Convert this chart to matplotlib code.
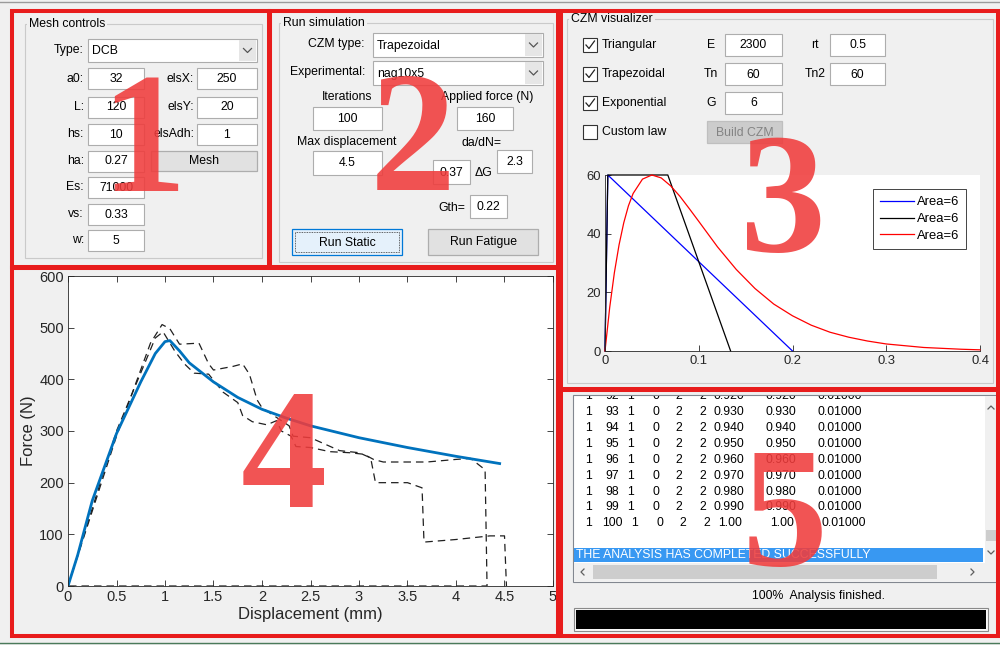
import matplotlib.pyplot as plt
from matplotlib.patches import Rectangle

plt.rcParams['font.family'] = ['Liberation Sans', 'DejaVu Sans']

# ---------------- values ----------------
mesh_type = 'DCB'
mesh_labels = ['a0:', 'L:', 'hs:', 'ha:', 'Es:', 'vs:', 'w:']
mesh_values = ['32', '120', '10', '0.27', '71000', '0.33', '5']
els_labels = ['elsX:', 'elsY:', 'elsAdh:']
els_values = ['250', '20', '1']

czm_type = 'Trapezoidal'
experimental = 'nag10x5'
iterations = '100'
applied_force = '160'
max_disp = '4.5'
dadn_c = '0.37'
dadn_m = '2.3'
gth = '0.22'

law_names = ['Triangular', 'Trapezoidal', 'Exponential', 'Custom law']
law_checked = [True, True, True, False]
param_names = ['E', 'Tn', 'G']
param_values = ['2300', '60', '6']
param2_names = ['rt', 'Tn2']
param2_values = ['0.5', '60']

# cohesive laws: separation / traction
tri_sep = [0, 0.003, 0.2]
tri_trac = [0, 60, 0]
trap_sep = [0, 0.003, 0.067, 0.134]
trap_trac = [0, 60, 60, 0]
exp_sep = [0, 0.005, 0.01, 0.015, 0.02, 0.025, 0.03, 0.04, 0.05, 0.06, 0.07, 0.08,
           0.09, 0.10, 0.12, 0.14, 0.16, 0.18, 0.20, 0.22, 0.24, 0.26, 0.28, 0.30,
           0.34, 0.38, 0.40]
exp_trac = [0, 14.8, 26.7, 36.2, 43.7, 49.5, 53.7, 58.6, 60.0, 59.0, 56.3, 52.7,
            48.5, 44.2, 35.5, 27.8, 21.3, 16.0, 12.0, 8.8, 6.4, 4.7, 3.4, 2.4,
            1.2, 0.6, 0.4]
law_legend = ['Area=6', 'Area=6', 'Area=6']

# load - displacement
num_disp = [0, 0.1, 0.25, 0.5, 0.75, 0.9, 1.0, 1.05, 1.15, 1.25, 1.5, 1.75, 2.0,
            2.25, 2.5, 3.0, 3.5, 4.0, 4.45]
num_force = [0, 60, 165, 295, 395, 450, 473, 475, 455, 432, 395, 365, 342,
             325, 310, 287, 268, 251, 237]

expA_disp = [0, 0.5, 0.85, 0.97, 1.05, 1.15, 1.35, 1.45, 1.5, 1.7, 1.8, 1.87, 1.95,
             2.0, 2.2, 2.28, 2.32, 2.5, 2.8, 3.0, 3.12, 3.17, 3.5, 3.65, 3.67, 4.0,
             4.35, 4.5, 4.52]
expA_force = [0, 290, 470, 506, 498, 468, 470, 430, 418, 425, 430, 410, 360,
              345, 320, 310, 290, 287, 262, 258, 248, 200, 200, 190, 85, 90,
              97, 97, 0]
expB_disp = [0, 0.5, 0.9, 0.98, 1.1, 1.2, 1.3, 1.45, 1.6, 1.75, 1.8, 1.9, 2.05,
             2.15, 2.2, 2.3, 2.35, 2.5, 2.7, 2.9, 3.05, 3.15, 3.25, 3.7, 4.0, 4.15,
             4.3, 4.32, 0]
expB_force = [0, 300, 480, 492, 455, 430, 412, 410, 375, 355, 330, 318, 312,
              320, 300, 290, 270, 268, 260, 258, 255, 245, 240, 240, 245, 247,
              225, 0, 0]

log_rows = [
    ['1', '92', '1', '0', '2', '2', '0.920', '0.920', '0.01000'],
    ['1', '93', '1', '0', '2', '2', '0.930', '0.930', '0.01000'],
    ['1', '94', '1', '0', '2', '2', '0.940', '0.940', '0.01000'],
    ['1', '95', '1', '0', '2', '2', '0.950', '0.950', '0.01000'],
    ['1', '96', '1', '0', '2', '2', '0.960', '0.960', '0.01000'],
    ['1', '97', '1', '0', '2', '2', '0.970', '0.970', '0.01000'],
    ['1', '98', '1', '0', '2', '2', '0.980', '0.980', '0.01000'],
    ['1', '99', '1', '0', '2', '2', '0.990', '0.990', '0.01000'],
    ['1', '100', '1', '0', '2', '2', '1.00', '1.00', '0.01000'],
]
log_message = 'THE ANALYSIS HAS COMPLETED SUCCESSFULLY'
status_text = '100%  Analysis finished.'
panel_numbers = ['1', '2', '3', '4', '5']

# ---------------- figure in pixel coordinates ----------------
W, H = 1000, 645
FS = 8.8
BG = '#f0f0f0'
fig = plt.figure(figsize=(10, 6.45), dpi=100)
fig.patch.set_facecolor(BG)

bg = fig.add_axes([0, 0, 1, 1])
bg.set_xlim(0, W)
bg.set_ylim(H, 0)
bg.axis('off')


def ax_at(x0, y0, x1, y1, **kw):
    return fig.add_axes([x0 / W, 1 - y1 / H, (x1 - x0) / W, (y1 - y0) / H], **kw)


def rect(x0, y0, x1, y1, fc='white', ec='#adadad', lw=0.8, ax=None, **kw):
    (ax or bg).add_patch(Rectangle((x0, y0), x1 - x0, y1 - y0, facecolor=fc,
                                   edgecolor=ec, linewidth=lw, **kw))


def label(x, y, s, ha='right', **kw):
    bg.text(x, y, s, ha=ha, va='center', fontsize=FS, color='#000000', **kw)


def edit(x0, y0, x1, y1, s):
    rect(x0, y0, x1, y1)
    bg.text((x0 + x1) / 2, (y0 + y1) / 2 + 0.5, s, ha='center', va='center', fontsize=FS)


def popup(x0, y0, x1, y1, s):
    rect(x0, y0, x1, y1, ec='#acacac')
    rect(x1 - 18, y0 + 1, x1 - 1, y1 - 1, fc='#e6e6e6', ec='none', lw=0)
    cx, cy = x1 - 9.5, (y0 + y1) / 2
    bg.plot([cx - 4, cx, cx + 4], [cy - 2, cy + 2, cy - 2], color='#555555', lw=0.9)
    bg.text(x0 + 4, cy + 1, s, ha='left', va='center', fontsize=FS)


def button(x0, y0, x1, y1, s, fc='#e1e1e1', ec='#adadad', color='black'):
    rect(x0, y0, x1, y1, fc=fc, ec=ec, lw=0.9)
    bg.text((x0 + x1) / 2, (y0 + y1) / 2 + 0.5, s, ha='center', va='center',
            fontsize=FS, color=color)


def groupbox(x0, y0, x1, y1, title):
    rect(x0, y0, x1, y1, fc='none', ec='#cacaca', lw=0.8)
    bg.text(x0 + 4, y0, title, ha='left', va='center', fontsize=FS,
            bbox=dict(fc=BG, ec='none', pad=1.5))


def checkbox(x, y, checked):
    rect(x, y - 7, x + 14, y + 7, fc='white', ec='#333333', lw=0.8)
    if checked:
        bg.plot([x + 3, x + 6, x + 11.5], [y, y + 3.5, y - 4], color='#222222', lw=0.9)


# window border lines
bg.plot([0, W], [1.5, 1.5], color='#9a9a9a', lw=1)
bg.plot([0, W], [642.5, 642.5], color='#4a7a5a', lw=1)

# ---------------- panel 1: mesh controls ----------------
groupbox(25, 24, 262, 258, 'Mesh controls')
label(84, 50, 'Type:')
popup(88, 39, 257, 62, mesh_type)
row_y = [78.5, 107, 134, 161, 187.5, 214, 240]
for name, val, yc in zip(mesh_labels, mesh_values, row_y):
    label(84, yc, name)
    edit(88, yc - 10.5, 144, yc + 10.5, val)
for name, val, yc in zip(els_labels, els_values, row_y[:3]):
    label(194, yc, name)
    edit(197, yc - 10.5, 257, yc + 10.5, val)
button(151, 151, 257, 171, 'Mesh')

# ---------------- panel 2: run simulation ----------------
groupbox(279, 23, 553, 262, 'Run simulation')
label(365, 44, 'CZM type:')
popup(373, 33, 543, 57, czm_type)
label(365, 72, 'Experimental:')
popup(373, 61, 543, 85, experimental)
label(347, 97, 'Iterations', ha='center')
edit(313, 107, 382, 130, iterations)
label(487, 97, 'Applied force (N)', ha='center')
edit(457, 107, 513, 130, applied_force)
label(347, 142, 'Max displacement', ha='center')
edit(313, 151, 382, 175, max_disp)
label(482, 143, 'da/dN=', ha='center')
edit(433, 160, 470, 184, dadn_c)
label(475, 173, '\u0394G', ha='left')
edit(497, 150, 532, 173, dadn_m)
label(465, 208, 'Gth=')
edit(470, 195, 507, 218, gth)
button(292, 229, 402, 255, 'Run Static', fc='#e5f1fb', ec='#0078d7')
rect(295, 232, 399, 252, fc='none', ec='#333333', lw=0.6, linestyle=(0, (1, 1)))
button(428, 229, 538, 255, 'Run Fatigue')

# ---------------- panel 3: CZM visualizer ----------------
groupbox(567, 19, 993, 383, 'CZM visualizer')
law_y = [45, 74, 103, 132]
for name, chk, yc in zip(law_names, law_checked, law_y):
    checkbox(583, yc, chk)
    label(602, yc, name, ha='left')
for name, val, yc in zip(param_names, param_values, law_y[:3]):
    label(711, yc, name, ha='center')
    edit(725, yc - 11, 782, yc + 11, val)
for name, val, yc in zip(param2_names, param2_values, law_y[:2]):
    label(815, yc, name, ha='center')
    edit(830, yc - 11, 885, yc + 11, val)
button(707, 121, 782, 143, 'Build CZM', fc='#cccccc', ec='#bfbfbf', color='#838383')

ax3 = ax_at(605, 175, 980, 351)
ax3.plot(tri_sep, tri_trac, color='#0000ff', lw=0.9, label=law_legend[0], clip_on=False)
ax3.plot(trap_sep, trap_trac, color='#000000', lw=0.9, label=law_legend[1], clip_on=False)
ax3.plot(exp_sep, exp_trac, color='#ff0000', lw=0.9, label=law_legend[2], clip_on=False)
ax3.set_xlim(0, 0.4)
ax3.set_ylim(0, 60)
ax3.set_xticks([0, 0.1, 0.2, 0.3, 0.4])
ax3.set_xticklabels(['0', '0.1', '0.2', '0.3', '0.4'])
ax3.set_yticks([0, 20, 40, 60])
for s in ['top', 'right']:
    ax3.spines[s].set_visible(False)
for s in ['left', 'bottom']:
    ax3.spines[s].set_color('#262626')
    ax3.spines[s].set_linewidth(0.6)
ax3.tick_params(direction='in', length=4, width=0.6, colors='#262626', labelsize=9.4, pad=3)
leg = ax3.legend(loc='upper right', bbox_to_anchor=(0.963, 0.92), borderaxespad=0,
                 fontsize=9.4, frameon=True, fancybox=False, framealpha=1,
                 edgecolor='#262626', handlelength=2.6, handletextpad=0.2,
                 labelspacing=0.35, borderpad=0.55)
leg.get_frame().set_linewidth(0.6)

# ---------------- panel 4: load-displacement ----------------
ax4 = ax_at(68, 276, 553, 586)
ax4.plot(expA_disp, expA_force, color='#202020', lw=0.9, dashes=(6, 4))
ax4.plot(expB_disp, expB_force, color='#202020', lw=0.9, dashes=(6, 4))
ax4.plot(num_disp, num_force, color='#0072bd', lw=2.0)
ax4.set_xlim(0, 5)
ax4.set_ylim(0, 600)
ax4.set_xticks([0, 0.5, 1, 1.5, 2, 2.5, 3, 3.5, 4, 4.5, 5])
ax4.set_xticklabels(['0', '0.5', '1', '1.5', '2', '2.5', '3', '3.5', '4', '4.5', '5'])
ax4.set_yticks([0, 100, 200, 300, 400, 500, 600])
for s in ax4.spines.values():
    s.set_color('#262626')
    s.set_linewidth(0.6)
ax4.tick_params(direction='in', length=4, width=0.6, colors='#262626', labelsize=10.5,
                top=True, right=True, pad=3)
ax4.set_xlabel('Displacement (mm)', fontsize=12, color='#262626', labelpad=2)
ax4.set_ylabel('Force (N)', fontsize=12, color='#262626', labelpad=2)

# ---------------- panel 5: output log ----------------
rect(573, 395, 997, 582, fc='white', ec='#828790', lw=0.8)
lb = ax_at(573.5, 395.5, 985, 563)
lb.set_xlim(573.5, 985)
lb.set_ylim(563, 395.5)
lb.axis('off')
col_x = [588, 612, 631, 656, 679, 703, 714, 766, 817]
col_ha = ['center'] * 6 + ['left'] * 3
log_y = [395.7, 411.7, 427.7, 443.7, 459.7, 475.7, 491.7, 507.3, 523]
for row, yc in zip(log_rows, log_y):
    shift = 4 if len(row[1]) == 3 else 0
    for i, (s, x, ha) in enumerate(zip(row, col_x, col_ha)):
        lb.text(x + (shift if i >= 2 else 0), yc, s, ha=ha, va='center', fontsize=FS,
                clip_on=True)
lb.add_patch(Rectangle((573.5, 548), 983 - 573.5, 14, facecolor='#3898f2', edgecolor='none'))
lb.text(576, 555.5, log_message, ha='left', va='center', fontsize=FS, color='white',
        clip_on=True)

# scrollbars
rect(985, 395.5, 996.5, 563, fc='#f0f0f0', ec='none', lw=0)
rect(985.5, 530, 996.5, 541, fc='#cdcdcd', ec='none', lw=0)
bg.plot([988, 991, 994], [409, 406, 409], color='#606060', lw=0.9)
bg.plot([988, 991, 994], [551, 554, 551], color='#606060', lw=0.9)
rect(573.5, 563, 996.5, 581.5, fc='#f0f0f0', ec='none', lw=0)
rect(593, 565, 937, 579, fc='#cdcdcd', ec='none', lw=0)
bg.plot([584, 581, 584], [569, 572, 575], color='#606060', lw=0.9)
bg.plot([971, 974, 971], [569, 572, 575], color='#606060', lw=0.9)

bg.text(818, 596, status_text, ha='center', va='center', fontsize=FS)
rect(574, 608, 988, 631, fc='#f8f8f8', ec='#8a8a8a', lw=0.8)
rect(576, 610, 986, 629, fc='black', ec='none', lw=0)

# ---------------- red overlay: panel frames and numbers ----------------
top = fig.add_axes([0, 0, 1, 1], zorder=10)
top.set_xlim(0, W)
top.set_ylim(H, 0)
top.axis('off')
RED = '#e81c1c'
frames = [(12, 11, 269, 267), (270, 11, 558, 267), (561, 11, 998, 389),
          (12, 268, 558, 636), (561, 390, 998, 636)]
for x0, y0, x1, y1 in frames:
    top.add_patch(Rectangle((x0, y0), x1 - x0, y1 - y0, facecolor='none',
                            edgecolor=RED, linewidth=2.9))
num_pos = [(143, 150), (413, 149), (783, 210), (284, 466), (785, 524)]
for s, (x, y) in zip(panel_numbers, num_pos):
    top.text(x, y, s, ha='center', va='center', fontsize=124, fontweight='bold',
             family=['Liberation Serif', 'DejaVu Serif'], color='#f03c3c', alpha=0.88)

fig.savefig('out.png', dpi=100, facecolor=fig.get_facecolor())
